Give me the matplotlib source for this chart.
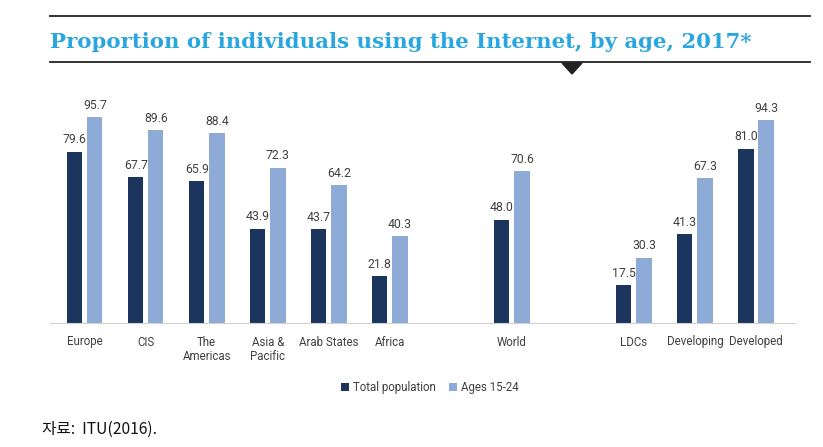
""" internet use by age, 2017 """
import matplotlib
matplotlib.use('Agg')
import matplotlib.pyplot as plt
from matplotlib.lines import Line2D
from matplotlib.patches import Polygon
import numpy as np

regions = ['Europe', 'CIS', 'The\nAmericas', 'Asia &\nPacific', 'Arab States',
           'Africa', 'World', 'LDCs', 'Developing', 'Developed']
total_pop = [79.6, 67.7, 65.9, 43.9, 43.7, 21.8, 48.0, 17.5, 41.3, 81.0]
ages_15_24 = [95.7, 89.6, 88.4, 72.3, 64.2, 40.3, 70.6, 30.3, 67.3, 94.3]
slots = [0, 1, 2, 3, 4, 5, 7, 9, 10, 11]

DARK = '#1c355e'
LIGHT = '#8eaad6'
TXT = '#404040'
LBL_FONT = ['Roboto', 'DejaVu Sans']

fig = plt.figure(figsize=(8.23, 4.47), dpi=100)

# header lines, title and pointer
fig.add_artist(Line2D([50/823, 810/823], [1-16/447]*2, color='#222222', lw=1.3))
fig.add_artist(Line2D([50/823, 810/823], [1-62/447]*2, color='#222222', lw=1.3))
fig.add_artist(Polygon([[562/823, 1-63/447], [582/823, 1-63/447], [572/823, 1-74/447]],
                       closed=True, color='#222222', transform=fig.transFigure))
fig.text(50/823, 1-42/447, 'Proportion of individuals using the Internet, by age, 2017*',
         color='#29a6de', fontsize=15.3, fontweight='bold', family='DejaVu Serif',
         va='center', ha='left')

ax = fig.add_axes([50/823, 1-323/447, 745/823, 215/447])
x = np.array(slots, dtype=float)
w = 0.25
off = 0.165
b1 = ax.bar(x - off, total_pop, w, color=DARK, label='Total population')
b2 = ax.bar(x + off, ages_15_24, w, color=LIGHT, label='Ages 15-24')
for bars, vals in ((b1, total_pop), (b2, ages_15_24)):
    for r, v in zip(bars, vals):
        ax.text(r.get_x() + r.get_width()/2, v + 2.5, f'{v:.1f}', ha='center',
                va='bottom', fontsize=8.8, color=TXT, family=LBL_FONT)

ax.set_xlim(-0.57, 11.64)
ax.set_ylim(0, 100)
for s in ('top', 'right', 'left'):
    ax.spines[s].set_visible(False)
ax.spines['bottom'].set_color('#d0d0d0')
ax.set_yticks([])
ax.set_xticks(x)
ax.set_xticklabels(regions, fontsize=8.3, color=TXT, linespacing=1.2, va='top',
                   family=LBL_FONT)
ax.tick_params(axis='x', length=0, pad=9)

ax.legend(loc='center', bbox_to_anchor=(0.51, -0.3), ncol=2, frameon=False,
          prop={'family': LBL_FONT, 'size': 8.3}, handlelength=0.7,
          handleheight=0.7, handletextpad=0.3, columnspacing=1.2, labelcolor=TXT)

fig.text(42/823, 1-429/447, '자료:  ITU(2016).', fontsize=11.3,
         family=['Noto Sans CJK KR', 'DejaVu Sans'], color='#111111', va='center')

fig.savefig('out.png', dpi=100)
